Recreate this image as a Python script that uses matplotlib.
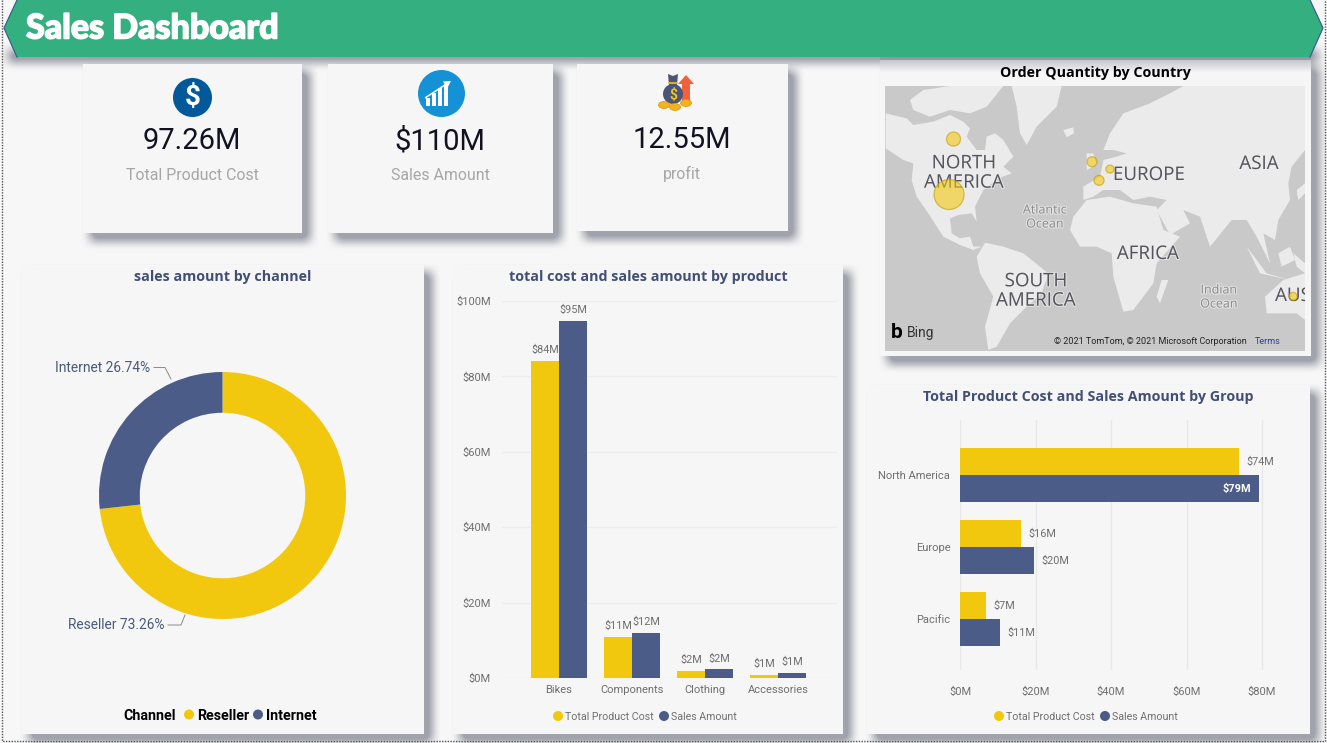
import numpy as np
import matplotlib
matplotlib.use('Agg')
import matplotlib.pyplot as plt
import matplotlib.patheffects as pe
from matplotlib.patches import Rectangle, Polygon, Circle, Ellipse, FancyArrow

plt.rcParams['font.family'] = ['Roboto', 'DejaVu Sans']

# data
channels = ['Reseller', 'Internet']
channel_pct = [73.26, 26.74]

products = ['Bikes', 'Components', 'Clothing', 'Accessories']
product_cost = [84.2, 11.0, 1.9, 0.9]
product_sales = [94.7, 11.9, 2.3, 1.4]

groups = ['North America', 'Europe', 'Pacific']
group_cost = [73.9, 16.2, 6.9]
group_sales = [79.2, 19.6, 10.6]

kpi_values = ['97.26M', '$110M', '12.55M']
kpi_names = ['Total Product Cost', 'Sales Amount', 'profit']

countries = ['United States', 'Canada', 'United Kingdom', 'Germany', 'France', 'Australia']
country_lon = [-98, -95, -2, 10, 2.7, 133]
country_lat = [39, 62, 54, 51, 46, -25]
country_qty = [21000, 4600, 2330, 1500, 2330, 1500]

YELLOW = '#F2C80F'
NAVY = '#4C5C88'
TITLE = '#414F75'
GREY = '#6F6F6F'
PAGE = '#F7F7F7'
CARD = '#F6F6F6'

fig = plt.figure(figsize=(13.27, 7.43), dpi=100, facecolor=PAGE)
bg = fig.add_axes([0, 0, 1, 1])
bg.set_xlim(0, 1327)
bg.set_ylim(743, 0)
bg.axis('off')


def px_axes(l, t, r, b):
    ax = fig.add_axes([l / 1327, 1 - b / 743, (r - l) / 1327, (b - t) / 743])
    ax.patch.set_alpha(0)
    return ax


def box_blur(a, n):
    k = np.ones(n) / n
    a = np.apply_along_axis(lambda m: np.convolve(m, k, mode='same'), 0, a)
    a = np.apply_along_axis(lambda m: np.convolve(m, k, mode='same'), 1, a)
    return a


cards = [(83, 64, 302, 233), (328, 64, 553, 233), (577, 64, 788, 231), (22, 265, 424, 734),
         (453, 265, 843, 734), (867, 385, 1310, 734), (880, 60, 1311, 356)]

# soft shadows under all the cards and the header
mask = np.zeros((743, 1327))
for x0, y0, x1, y1 in cards:
    mask[y0 + 7:y1 + 8, x0 + 7:x1 + 8] = 1
mask[50:62, 8:1318] = 1
mask = box_blur(box_blur(mask, 13), 7)
shadow = np.zeros((743, 1327, 4))
shadow[..., :3] = matplotlib.colors.to_rgb('#8A8D99')
shadow[..., 3] = np.clip(mask * 1.05, 0, 0.8)
bg.imshow(shadow, extent=(0, 1327, 743, 0), aspect='auto', zorder=1, interpolation='nearest')

for x0, y0, x1, y1 in cards:
    bg.add_patch(Rectangle((x0, y0), x1 - x0, y1 - y0, fc=CARD, ec='none', zorder=2))

# header shadow falls on top of the map card
top = np.zeros((16, 431, 4))
top[..., :3] = matplotlib.colors.to_rgb('#8A8D99')
top[..., 3] = np.linspace(0.55, 0, 16)[:, None]
bg.imshow(top, extent=(880, 1311, 73, 57), aspect='auto', zorder=3, interpolation='bilinear')
bg.set_xlim(0, 1327)
bg.set_ylim(743, 0)

# dotted page border
bg.plot([2, 2, 1325, 1325], [0, 741, 741, 0], color='#555555', lw=1, ls=(0, (1, 1)), zorder=3)

# header band
bg.add_patch(Polygon([(4, 28), (17, 0), (1310, 0), (1323, 28), (1310, 57), (17, 57)],
                     fc='#34B080', ec='none', zorder=4))
bg.plot([17, 4, 17], [0, 28, 57], color='#3C5F8C', lw=0.9, zorder=5)
bg.plot([1310, 1323, 1310], [0, 28, 57], color='#3C5F8C', lw=0.9, zorder=5)
head = bg.text(26, 28.5, 'Sales Dashboard', color='white', family='Lato', weight='black',
               fontsize=24.5, va='center', ha='left', zorder=5)
head.set_path_effects([pe.withStroke(linewidth=1.1, foreground='white')])

# KPI cards
kpi_x = [192, 440, 682]
kpi_y = [141, 141, 140]
name_y = [175, 175, 174]
for x, y, ny, v, n in zip(kpi_x, kpi_y, name_y, kpi_values, kpi_names):
    bg.text(x, y, v, color='#111122', fontsize=21, ha='center', va='center', zorder=5)
    bg.text(x, ny, n, color='#A6A6A6', fontsize=11.4, ha='center', va='center', zorder=5)

# dollar icon
bg.add_patch(Circle((192.5, 97.5), 19.5, fc='#02599A', ec='none', zorder=5))
bg.text(192.5, 97, '$', color='white', fontsize=20, weight='bold', ha='center', va='center', zorder=6)
# growth icon
bg.add_patch(Circle((441.5, 93.5), 23.5, fc='#1592D6', ec='none', zorder=5))
for bx, bh in zip([426, 432, 438, 444], [8, 13, 18, 22]):
    bg.add_patch(Rectangle((bx, 106 - bh), 4, bh, fc='white', ec='none', zorder=6))
bg.add_patch(FancyArrow(425, 98, 26, -17, width=1.5, head_width=8, head_length=7,
                        length_includes_head=True, fc='white', ec='none', zorder=7))
# profit icon: arrow, bag, coins
bg.add_patch(FancyArrow(686, 101, 0, -26, width=8, head_width=16, head_length=9,
                        length_includes_head=True, fc='#F2603C', ec='none', zorder=5))
bg.add_patch(Ellipse((673, 94), 20, 20, fc='#4A5578', ec='none', zorder=6))
bg.add_patch(Polygon([(669, 85), (668, 74), (673, 76), (678, 74), (677, 85)], fc='#4A5578', ec='none', zorder=6))
bg.plot([669, 677], [83, 83], color='#F2C80F', lw=1.2, zorder=7)
bg.text(673, 95, '$', color='#F2C80F', fontsize=10, weight='bold', ha='center', va='center', zorder=7)
for cx, cy in zip([664, 675, 686], [105, 107, 103]):
    bg.add_patch(Ellipse((cx, cy), 11, 7, fc='#F5B31B', ec='#D9930F', lw=0.5, zorder=8))

# titles
titles = ['sales amount by channel', 'total cost and sales amount by product',
          'Total Product Cost and Sales Amount by Group']
for x, y, t in zip([223, 648, 1088], [277.5, 277.5, 397.5], titles):
    bg.text(x, y, t, color=TITLE, fontsize=10.3, weight='bold', ha='center', va='center',
            zorder=5, family='Open Sans')
bg.text(1095, 72.5, 'Order Quantity by Country', color='black', fontsize=10.3, weight='bold',
        ha='center', va='center', zorder=5, family='Open Sans')

# donut
ax = px_axes(97, 370, 348, 621)
ax.pie(channel_pct, colors=[YELLOW, NAVY], startangle=90, counterclock=False,
       wedgeprops={'width': 0.33, 'ec': 'none'}, radius=1)
ax.set_xlim(-125.5 / 123.5, 125.5 / 123.5)
ax.set_ylim(-125.5 / 123.5, 125.5 / 123.5)
bg.text(150, 367.5, f'{channels[1]} {channel_pct[1]}%', color='#4A5A78', fontsize=9.9, ha='right',
        va='center', zorder=5)
bg.text(164, 625, f'{channels[0]} {channel_pct[0]}%', color='#4A5A78', fontsize=9.9, ha='right',
        va='center', zorder=5)
bg.plot([154, 165, 171], [367.5, 367.5, 379], color='#8A8A8A', lw=0.7, zorder=5)
bg.plot([168, 181, 185], [625, 625, 615], color='#8A8A8A', lw=0.7, zorder=5)
bg.text(123, 715.5, 'Channel', color='black', weight='bold', fontsize=10.3, va='center', zorder=5)
bg.text(197, 715.5, channels[0], color='black', weight='bold', fontsize=10.3, va='center', zorder=5)
bg.text(266, 715.5, channels[1], color='black', weight='bold', fontsize=10.3, va='center', zorder=5)
bg.add_patch(Circle((189, 714.5), 5, fc=YELLOW, ec='none', zorder=5))
bg.add_patch(Circle((258, 714.5), 5, fc=NAVY, ec='none', zorder=5))

# column chart
ax = px_axes(502, 301, 837, 678)
x = np.arange(len(products))
w = 28 / 73
ax.bar(x - w / 2, product_cost, w, color=YELLOW, zorder=3)
ax.bar(x + w / 2, product_sales, w, color=NAVY, zorder=3)
for i in range(len(products)):
    ax.text(x[i] - w / 2, product_cost[i] + 1.5, f'${product_cost[i]:.0f}M', ha='center', va='bottom',
            fontsize=7.8, color=GREY)
    ax.text(x[i] + w / 2, product_sales[i] + 1.5, f'${product_sales[i]:.0f}M', ha='center', va='bottom',
            fontsize=7.8, color=GREY)
ax.set_xlim(-57 / 73, 278 / 73)
ax.set_ylim(0, 100)
ax.set_xticks(x, products)
ax.set_yticks([0, 20, 40, 60, 80, 100], ['$0M', '$20M', '$40M', '$60M', '$80M', '$100M'])
ax.grid(axis='y', color='#EDEDED', lw=1, zorder=0)
ax.tick_params(length=0, labelsize=8, labelcolor=GREY, pad=5)
ax.tick_params(axis='y', pad=8)
for s in ax.spines.values():
    s.set_visible(False)

# bar chart
ax = px_axes(960, 420, 1290, 670)
y = np.arange(len(groups))
h = 27 / 72
ax.barh(y - h / 2, group_cost, h, color=YELLOW, zorder=3)
ax.barh(y + h / 2, group_sales, h, color=NAVY, zorder=3)
for i in range(len(groups)):
    ax.text(group_cost[i] + 2, y[i] - h / 2, f'${group_cost[i]:.0f}M', va='center', fontsize=7.8, color=GREY)
    if group_sales[i] > 70:
        ax.text(group_sales[i] - 2, y[i] + h / 2, f'${group_sales[i]:.0f}M', va='center', ha='right',
                fontsize=7.8, color='white', weight='bold', zorder=4)
    else:
        ax.text(group_sales[i] + 2, y[i] + h / 2, f'${group_sales[i]:.0f}M', va='center', fontsize=7.8, color=GREY)
ax.set_xlim(0, 330 / 3.775)
ax.set_ylim(195 / 72, -55 / 72)
ax.set_yticks(y, groups)
ax.set_xticks([0, 20, 40, 60, 80], ['$0M', '$20M', '$40M', '$60M', '$80M'])
ax.grid(axis='x', color='#E8E8E8', lw=1, zorder=0)
ax.tick_params(length=0, labelsize=8, labelcolor=GREY)
ax.tick_params(axis='y', pad=7)
ax.tick_params(axis='x', pad=12)
for s in ax.spines.values():
    s.set_visible(False)

# legends of the two bar charts
for dx, lx, dx2, lx2 in [(558, 565, 664, 671), (999, 1006, 1105, 1112)]:
    bg.add_patch(Circle((dx, 716), 5, fc=YELLOW, ec='none', zorder=5))
    bg.add_patch(Circle((dx2, 716), 5, fc=NAVY, ec='none', zorder=5))
    bg.text(lx, 716.5, 'Total Product Cost', fontsize=7.7, color=GREY, va='center', zorder=5)
    bg.text(lx2, 716.5, 'Sales Amount', fontsize=7.7, color=GREY, va='center', zorder=5)


# map
def merc(lat):
    return np.log(np.tan(np.pi / 4 + np.radians(np.asarray(lat, dtype=float)) / 2))


# rough land outlines, traced on the map panel (3x panel coords)
land = [
    [(47, 190), (110, 205), (130, 225), (190, 215), (240, 195), (280, 215), (300, 235), (290, 260), (320, 300),
     (345, 300), (350, 260), (375, 250), (400, 270), (430, 320), (400, 350), (425, 370), (385, 385), (340, 420),
     (315, 470), (320, 515), (305, 490), (265, 495), (240, 505), (245, 550), (270, 565), (300, 560), (310, 590),
     (335, 590), (310, 600), (270, 585), (220, 560), (175, 490), (140, 440), (125, 390), (130, 340), (100, 330),
     (47, 295)],
    [(120, 150), (160, 120), (240, 108), (400, 108), (350, 170), (300, 190), (240, 180), (180, 200), (130, 180)],
    [(425, 108), (575, 108), (560, 170), (500, 230), (470, 285), (450, 250), (440, 170)],
    [(580, 240), (610, 232), (612, 250), (590, 262)],
    [(650, 310), (670, 310), (680, 345), (650, 360)],
    [(320, 620), (345, 578), (400, 590), (460, 610), (535, 670), (515, 730), (470, 770), (420, 820), (380, 890),
     (355, 900), (345, 830), (370, 740), (330, 670)],
    [(610, 500), (650, 450), (720, 440), (790, 460), (860, 470), (880, 540), (930, 560), (860, 640), (850, 700),
     (790, 780), (760, 785), (730, 680), (725, 610), (680, 590), (630, 590), (600, 540)],
    [(640, 450), (640, 410), (690, 380), (700, 330), (740, 320), (770, 310), (730, 300), (700, 300), (720, 250),
     (760, 190), (840, 160), (900, 130), (940, 108), (1305, 108), (1305, 300), (1265, 350), (1255, 400), (1260, 450),
     (1225, 510), (1215, 570), (1180, 550), (1200, 640), (1160, 560), (1130, 510), (1085, 510), (1020, 590),
     (990, 500), (940, 480), (960, 520), (900, 555), (860, 480), (890, 450), (840, 440), (790, 450), (750, 420),
     (700, 420), (670, 440)],
    [(875, 690), (895, 690), (870, 760), (860, 740)],
    [(1185, 740), (1240, 690), (1305, 670), (1305, 810), (1280, 790), (1190, 790)],
    [(1130, 590), (1190, 670), (1260, 690), (1170, 670)],
    [(1225, 610), (1260, 590), (1275, 630), (1235, 650)],
    [(1270, 610), (1305, 640), (1305, 670), (1280, 650)],
    [(1280, 420), (1305, 400), (1305, 430), (1285, 450)],
]
ax = px_axes(885, 86, 1305, 351)
ax.set_xlim(-141, 141)
ax.set_ylim(-1.09, 2.01)
ax.set_facecolor('#C9C9C9')
ax.patch.set_alpha(1)
ax.set_xticks([])
ax.set_yticks([])
for s in ax.spines.values():
    s.set_visible(False)
for poly in land:
    pts = np.array(poly, dtype=float) / 3 + [870, 50]
    ax.add_patch(Polygon(pts, fc='#EBEBEB', ec='none', zorder=1, transform=bg.transData))
ax.scatter(country_lon, merc(country_lat), s=np.array(country_qty) * 466 / 21000, color='#F2C80F', alpha=0.6,
           ec='#C49A00', lw=0.9, zorder=4)

map_text = [('NORTH\nAMERICA', 964, 172, 13.5, '#55555F'), ('EUROPE', 1149, 174, 13.5, '#55555F'),
            ('ASIA', 1259, 163, 13.5, '#55555F'), ('AFRICA', 1148, 253, 13.5, '#55555F'),
            ('SOUTH\nAMERICA', 1036, 290, 13.5, '#55555F'), ('Atlantic\nOcean', 1045, 216, 9, '#8C8C8C'),
            ('Indian\nOcean', 1219, 296, 9, '#8C8C8C'), ('AUS', 1293, 295, 13.5, '#55555F')]
for t, mx, my, fs, col in map_text:
    txt = ax.text(mx, my + 1, t, transform=bg.transData, fontsize=fs, color=col, ha='center', va='center',
                  linespacing=1.1, zorder=3, clip_on=True, family='Open Sans')
    txt.set_path_effects([pe.withStroke(linewidth=1.5, foreground='#EEEEEE', alpha=0.7)])
ax.text(897, 333, 'b', transform=bg.transData, fontsize=15, weight='bold', color='black', ha='center',
        va='center', zorder=5)
ax.text(907, 333, 'Bing', transform=bg.transData, fontsize=10, color='#333333', va='center', zorder=5)
ax.text(1054, 342, '© 2021 TomTom, © 2021 Microsoft Corporation', transform=bg.transData, fontsize=6.5,
        color='#222222', va='center', zorder=5)
ax.text(1255, 342, 'Terms', transform=bg.transData, fontsize=6.5, color='#2B3F9E', va='center', zorder=5)

fig.savefig('out.png', dpi=100, facecolor=fig.get_facecolor())
